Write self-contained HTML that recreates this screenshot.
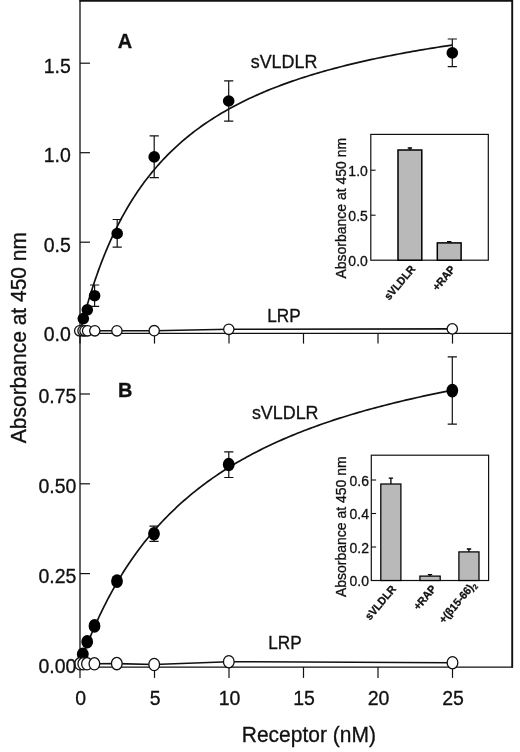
<!DOCTYPE html>
<html><head><meta charset="utf-8"><title>Figure</title>
<style>html,body{margin:0;padding:0;background:#fff}svg{display:block}text{font-family:"Liberation Sans",sans-serif}</style></head>
<body><svg width="520" height="752" viewBox="0 0 520 752">
<rect width="520" height="752" fill="#fff"/>
<g stroke="#111" fill="none" stroke-linecap="butt">
<path d="M512.2 667.1H80.0V0.9" stroke-width="1.3" stroke-linecap="square"/>
<path d="M79.4 0.8H512.2" stroke-width="1.8"/>
<path d="M512.2 0V667.8000000000001" stroke-width="1.9"/>
<path d="M80.0 333.3H512.2" stroke-width="1.2"/>
<path d="M80.0 242.2h10" stroke-width="1.2"/>
<path d="M80.0 152.7h10" stroke-width="1.2"/>
<path d="M80.0 63.2h10" stroke-width="1.2"/>
<path d="M80.0 573.6h10" stroke-width="1.2"/>
<path d="M80.0 483.8h10" stroke-width="1.2"/>
<path d="M80.0 394.0h10" stroke-width="1.2"/>
<path d="M80.0 333.3v10.3" stroke-width="1.2"/>
<path d="M80.0 667.1v10.8" stroke-width="1.2"/>
<path d="M154.5 333.3v10.3" stroke-width="1.2"/>
<path d="M154.5 667.1v10.8" stroke-width="1.2"/>
<path d="M229.0 333.3v10.3" stroke-width="1.2"/>
<path d="M229.0 667.1v10.8" stroke-width="1.2"/>
<path d="M303.5 333.3v10.3" stroke-width="1.2"/>
<path d="M303.5 667.1v10.8" stroke-width="1.2"/>
<path d="M378.0 333.3v10.3" stroke-width="1.2"/>
<path d="M378.0 667.1v10.8" stroke-width="1.2"/>
<path d="M452.5 333.3v10.3" stroke-width="1.2"/>
<path d="M452.5 667.1v10.8" stroke-width="1.2"/>
</g>
<path d="M80.00 332.00L80.01 331.96L80.04 331.85L80.08 331.66L80.15 331.40L80.23 331.06L80.34 330.65L80.46 330.17L80.60 329.61L80.75 328.98L80.93 328.28L81.13 327.51L81.34 326.67L81.57 325.76L81.83 324.79L82.10 323.74L82.38 322.64L82.69 321.47L83.02 320.23L83.36 318.94L83.72 317.58L84.11 316.17L84.51 314.70L84.93 313.18L85.36 311.61L85.82 309.98L86.30 308.30L86.79 306.58L87.30 304.80L87.83 302.99L88.38 301.13L88.95 299.23L89.54 297.29L90.14 295.32L90.77 293.31L91.41 291.26L92.07 289.19L92.75 287.08L93.45 284.95L94.16 282.79L94.90 280.60L95.65 278.39L96.43 276.16L97.22 273.91L98.03 271.64L98.86 269.36L99.71 267.06L100.57 264.75L101.46 262.42L102.36 260.09L103.28 257.74L104.22 255.39L105.18 253.03L106.16 250.67L107.16 248.30L108.17 245.93L109.20 243.56L110.26 241.19L111.33 238.82L112.42 236.45L113.53 234.09L114.65 231.73L115.80 229.37L116.96 227.02L118.14 224.68L119.35 222.34L120.57 220.02L121.80 217.70L123.06 215.39L124.34 213.10L125.63 210.81L126.94 208.54L128.28 206.28L129.63 204.03L131.00 201.79L132.38 199.57L133.79 197.37L135.21 195.18L136.66 193.00L138.12 190.84L139.60 188.70L141.10 186.57L142.62 184.46L144.15 182.37L145.71 180.29L147.28 178.23L148.88 176.19L150.49 174.17L152.12 172.16L153.76 170.18L155.43 168.21L157.12 166.26L158.82 164.33L160.54 162.42L162.29 160.52L164.05 158.65L165.82 156.79L167.62 154.95L169.44 153.13L171.27 151.33L173.12 149.55L175.00 147.79L176.89 146.04L178.80 144.32L180.72 142.61L182.67 140.92L184.64 139.25L186.62 137.60L188.62 135.97L190.64 134.35L192.68 132.76L194.74 131.18L196.82 129.62L198.91 128.07L201.03 126.55L203.16 125.04L205.31 123.55L207.48 122.08L209.67 120.62L211.87 119.18L214.10 117.76L216.34 116.35L218.61 114.96L220.89 113.59L223.19 112.23L225.51 110.89L227.85 109.57L230.20 108.26L232.58 106.97L234.97 105.69L237.38 104.43L239.81 103.18L242.26 101.95L244.73 100.73L247.22 99.53L249.72 98.34L252.24 97.16L254.79 96.00L257.35 94.86L259.93 93.72L262.52 92.61L265.14 91.50L267.78 90.41L270.43 89.33L273.10 88.26L275.80 87.21L278.51 86.17L281.23 85.14L283.98 84.13L286.75 83.13L289.53 82.14L292.33 81.16L295.16 80.19L298.00 79.23L300.86 78.29L303.73 77.36L306.63 76.44L309.54 75.53L312.48 74.63L315.43 73.74L318.40 72.86L321.39 71.99L324.40 71.13L327.42 70.29L330.47 69.45L333.53 68.62L336.62 67.81L339.72 67.00L342.84 66.20L345.97 65.41L349.13 64.63L352.31 63.86L355.50 63.10L358.71 62.35L361.95 61.61L365.20 60.87L368.46 60.15L371.75 59.43L375.06 58.72L378.38 58.02L381.73 57.33L385.09 56.64L388.47 55.96L391.87 55.30L395.28 54.63L398.72 53.98L402.18 53.33L405.65 52.70L409.14 52.06L412.65 51.44L416.18 50.82L419.73 50.21L423.30 49.61L426.88 49.01L430.49 48.42L434.11 47.84L437.75 47.26L441.41 46.69L445.09 46.13L448.78 45.57L452.50 45.02" stroke="#111" stroke-width="1.7" fill="none"/>
<path d="M80.00 663.40L80.01 663.37L80.04 663.30L80.08 663.17L80.15 662.98L80.23 662.75L80.34 662.47L80.46 662.13L80.60 661.74L80.75 661.30L80.93 660.82L81.13 660.28L81.34 659.69L81.57 659.05L81.83 658.37L82.10 657.64L82.38 656.85L82.69 656.03L83.02 655.15L83.36 654.24L83.72 653.27L84.11 652.27L84.51 651.22L84.93 650.13L85.36 648.99L85.82 647.82L86.30 646.60L86.79 645.35L87.30 644.06L87.83 642.73L88.38 641.37L88.95 639.97L89.54 638.54L90.14 637.07L90.77 635.57L91.41 634.04L92.07 632.48L92.75 630.90L93.45 629.28L94.16 627.64L94.90 625.97L95.65 624.27L96.43 622.55L97.22 620.81L98.03 619.05L98.86 617.26L99.71 615.46L100.57 613.63L101.46 611.79L102.36 609.93L103.28 608.06L104.22 606.17L105.18 604.26L106.16 602.34L107.16 600.41L108.17 598.47L109.20 596.52L110.26 594.56L111.33 592.59L112.42 590.61L113.53 588.62L114.65 586.63L115.80 584.63L116.96 582.63L118.14 580.62L119.35 578.61L120.57 576.60L121.80 574.58L123.06 572.57L124.34 570.55L125.63 568.54L126.94 566.52L128.28 564.51L129.63 562.49L131.00 560.48L132.38 558.48L133.79 556.47L135.21 554.47L136.66 552.48L138.12 550.49L139.60 548.51L141.10 546.53L142.62 544.56L144.15 542.59L145.71 540.63L147.28 538.68L148.88 536.74L150.49 534.81L152.12 532.88L153.76 530.96L155.43 529.06L157.12 527.16L158.82 525.27L160.54 523.39L162.29 521.53L164.05 519.67L165.82 517.82L167.62 515.99L169.44 514.16L171.27 512.35L173.12 510.55L175.00 508.76L176.89 506.98L178.80 505.22L180.72 503.47L182.67 501.72L184.64 499.99L186.62 498.28L188.62 496.57L190.64 494.88L192.68 493.20L194.74 491.54L196.82 489.89L198.91 488.24L201.03 486.62L203.16 485.00L205.31 483.40L207.48 481.81L209.67 480.24L211.87 478.68L214.10 477.13L216.34 475.59L218.61 474.07L220.89 472.56L223.19 471.06L225.51 469.57L227.85 468.10L230.20 466.64L232.58 465.20L234.97 463.76L237.38 462.34L239.81 460.94L242.26 459.54L244.73 458.16L247.22 456.79L249.72 455.43L252.24 454.09L254.79 452.76L257.35 451.44L259.93 450.13L262.52 448.83L265.14 447.55L267.78 446.28L270.43 445.02L273.10 443.77L275.80 442.54L278.51 441.31L281.23 440.10L283.98 438.90L286.75 437.71L289.53 436.53L292.33 435.37L295.16 434.21L298.00 433.07L300.86 431.94L303.73 430.81L306.63 429.70L309.54 428.60L312.48 427.51L315.43 426.44L318.40 425.37L321.39 424.31L324.40 423.26L327.42 422.23L330.47 421.20L333.53 420.18L336.62 419.17L339.72 418.18L342.84 417.19L345.97 416.21L349.13 415.24L352.31 414.29L355.50 413.34L358.71 412.40L361.95 411.47L365.20 410.55L368.46 409.63L371.75 408.73L375.06 407.84L378.38 406.95L381.73 406.07L385.09 405.21L388.47 404.35L391.87 403.49L395.28 402.65L398.72 401.82L402.18 400.99L405.65 400.17L409.14 399.36L412.65 398.56L416.18 397.77L419.73 396.98L423.30 396.20L426.88 395.43L430.49 394.66L434.11 393.91L437.75 393.16L441.41 392.42L445.09 391.68L448.78 390.96L452.50 390.24" stroke="#111" stroke-width="1.7" fill="none"/>
<path d="M94.6 285.0V306.4M90.0 285.0h9.2M90.0 306.4h9.2" stroke="#111" stroke-width="1.2" fill="none"/>
<path d="M117.2 219.5V247.1M112.6 219.5h9.2M112.6 247.1h9.2" stroke="#111" stroke-width="1.2" fill="none"/>
<path d="M154.2 135.8V177.7M149.6 135.8h9.2M149.6 177.7h9.2" stroke="#111" stroke-width="1.2" fill="none"/>
<path d="M228.7 80.8V121.2M224.1 80.8h9.2M224.1 121.2h9.2" stroke="#111" stroke-width="1.2" fill="none"/>
<path d="M452.3 39.0V66.7M447.7 39.0h9.2M447.7 66.7h9.2" stroke="#111" stroke-width="1.2" fill="none"/>
<ellipse cx="83.3" cy="318.6" rx="5.8" ry="5.8" fill="#000"/>
<ellipse cx="87.3" cy="309.8" rx="5.8" ry="5.8" fill="#000"/>
<ellipse cx="94.6" cy="295.7" rx="5.8" ry="5.8" fill="#000"/>
<ellipse cx="117.2" cy="233.5" rx="5.8" ry="5.8" fill="#000"/>
<ellipse cx="154.2" cy="156.9" rx="5.8" ry="5.8" fill="#000"/>
<ellipse cx="228.7" cy="101" rx="5.8" ry="5.8" fill="#000"/>
<ellipse cx="452.3" cy="52.9" rx="5.8" ry="5.8" fill="#000"/>
<path d="M154.0 526.2V541.4M149.4 526.2h9.2M149.4 541.4h9.2" stroke="#111" stroke-width="1.2" fill="none"/>
<path d="M228.8 451.8V477.5M224.2 451.8h9.2M224.2 477.5h9.2" stroke="#111" stroke-width="1.2" fill="none"/>
<path d="M452.3 356.9V424.2M447.7 356.9h9.2M447.7 424.2h9.2" stroke="#111" stroke-width="1.2" fill="none"/>
<ellipse cx="82.8" cy="654.3" rx="5.9" ry="6.8" fill="#000"/>
<ellipse cx="87.2" cy="641.7" rx="5.9" ry="6.8" fill="#000"/>
<ellipse cx="94.5" cy="625.9" rx="5.9" ry="6.8" fill="#000"/>
<ellipse cx="117.0" cy="581.1" rx="5.9" ry="6.8" fill="#000"/>
<ellipse cx="154.0" cy="533.8" rx="5.9" ry="6.8" fill="#000"/>
<ellipse cx="228.75" cy="464.5" rx="5.9" ry="6.8" fill="#000"/>
<ellipse cx="452.3" cy="390.6" rx="5.9" ry="6.8" fill="#000"/>
<path d="M79.7 330.8L83.0 330.8L85.0 330.8L87.6 330.8L94.8 330.8L116.9 330.8L154.2 330.7L228.8 329.3L452.3 328.9" stroke="#111" stroke-width="1.6" fill="none"/>
<ellipse cx="79.7" cy="330.8" rx="5.15" ry="5.2" fill="#fff" stroke="#111" stroke-width="1.3"/>
<ellipse cx="83.0" cy="330.8" rx="5.15" ry="5.2" fill="#fff" stroke="#111" stroke-width="1.3"/>
<ellipse cx="85.0" cy="330.8" rx="5.15" ry="5.2" fill="#fff" stroke="#111" stroke-width="1.3"/>
<ellipse cx="87.6" cy="330.8" rx="5.15" ry="5.2" fill="#fff" stroke="#111" stroke-width="1.3"/>
<ellipse cx="94.8" cy="330.8" rx="5.15" ry="5.2" fill="#fff" stroke="#111" stroke-width="1.3"/>
<ellipse cx="116.9" cy="330.8" rx="5.15" ry="5.2" fill="#fff" stroke="#111" stroke-width="1.3"/>
<ellipse cx="154.2" cy="330.7" rx="5.15" ry="5.2" fill="#fff" stroke="#111" stroke-width="1.3"/>
<ellipse cx="228.8" cy="329.3" rx="5.15" ry="5.2" fill="#fff" stroke="#111" stroke-width="1.3"/>
<ellipse cx="452.3" cy="328.9" rx="5.15" ry="5.2" fill="#fff" stroke="#111" stroke-width="1.3"/>
<path d="M80 663.8L83.3 663.8L87.0 663.8L94.4 663.8L116.8 663.6L154.2 664.5L228.8 661.7L452.5 662.7" stroke="#111" stroke-width="1.6" fill="none"/>
<ellipse cx="80" cy="663.8" rx="5.35" ry="6.15" fill="#fff" stroke="#111" stroke-width="1.3"/>
<ellipse cx="83.3" cy="663.8" rx="5.35" ry="6.15" fill="#fff" stroke="#111" stroke-width="1.3"/>
<ellipse cx="87.0" cy="663.8" rx="5.35" ry="6.15" fill="#fff" stroke="#111" stroke-width="1.3"/>
<ellipse cx="94.4" cy="663.8" rx="5.35" ry="6.15" fill="#fff" stroke="#111" stroke-width="1.3"/>
<ellipse cx="116.8" cy="663.6" rx="5.35" ry="6.15" fill="#fff" stroke="#111" stroke-width="1.3"/>
<ellipse cx="154.2" cy="664.5" rx="5.35" ry="6.15" fill="#fff" stroke="#111" stroke-width="1.3"/>
<ellipse cx="228.8" cy="661.7" rx="5.35" ry="6.15" fill="#fff" stroke="#111" stroke-width="1.3"/>
<ellipse cx="452.5" cy="662.7" rx="5.35" ry="6.15" fill="#fff" stroke="#111" stroke-width="1.3"/>
<text transform="translate(70.8 341.0) scale(1 1.045)" font-size="19.5" text-anchor="end" font-weight="normal"  fill="#111" stroke="#111" stroke-width="0.3" >0.0</text>
<text transform="translate(70.8 251.5) scale(1 1.045)" font-size="19.5" text-anchor="end" font-weight="normal"  fill="#111" stroke="#111" stroke-width="0.3" >0.5</text>
<text transform="translate(70.8 162.0) scale(1 1.045)" font-size="19.5" text-anchor="end" font-weight="normal"  fill="#111" stroke="#111" stroke-width="0.3" >1.0</text>
<text transform="translate(70.8 72.5) scale(1 1.045)" font-size="19.5" text-anchor="end" font-weight="normal"  fill="#111" stroke="#111" stroke-width="0.3" >1.5</text>
<text transform="translate(76.4 672.5) scale(1 1.045)" font-size="19.5" text-anchor="end" font-weight="normal"  fill="#111" stroke="#111" stroke-width="0.3" >0.00</text>
<text transform="translate(76.4 582.7) scale(1 1.045)" font-size="19.5" text-anchor="end" font-weight="normal"  fill="#111" stroke="#111" stroke-width="0.3" >0.25</text>
<text transform="translate(76.4 492.9) scale(1 1.045)" font-size="19.5" text-anchor="end" font-weight="normal"  fill="#111" stroke="#111" stroke-width="0.3" >0.50</text>
<text transform="translate(76.4 403.1) scale(1 1.045)" font-size="19.5" text-anchor="end" font-weight="normal"  fill="#111" stroke="#111" stroke-width="0.3" >0.75</text>
<text transform="translate(80.6 704.8) scale(1 1.045)" font-size="19.5" text-anchor="middle" font-weight="normal"  fill="#111" stroke="#111" stroke-width="0.3" >0</text>
<text transform="translate(155.1 704.8) scale(1 1.045)" font-size="19.5" text-anchor="middle" font-weight="normal"  fill="#111" stroke="#111" stroke-width="0.3" >5</text>
<text transform="translate(229.6 704.8) scale(1 1.045)" font-size="19.5" text-anchor="middle" font-weight="normal"  fill="#111" stroke="#111" stroke-width="0.3" >10</text>
<text transform="translate(304.1 704.8) scale(1 1.045)" font-size="19.5" text-anchor="middle" font-weight="normal"  fill="#111" stroke="#111" stroke-width="0.3" >15</text>
<text transform="translate(378.6 704.8) scale(1 1.045)" font-size="19.5" text-anchor="middle" font-weight="normal"  fill="#111" stroke="#111" stroke-width="0.3" >20</text>
<text transform="translate(453.1 704.8) scale(1 1.045)" font-size="19.5" text-anchor="middle" font-weight="normal"  fill="#111" stroke="#111" stroke-width="0.3" >25</text>
<text transform="translate(308.8 741.6) scale(1 1.045)" font-size="21" text-anchor="middle" font-weight="normal"  fill="#111" stroke="#111" stroke-width="0.3" >Receptor (nM)</text>
<text transform="translate(25.6 337.6) rotate(-90) scale(1 1.045)" font-size="21" text-anchor="middle" font-weight="normal"  fill="#111" stroke="#111" stroke-width="0.3" >Absorbance at 450 nm</text>
<text transform="translate(125 48) scale(1 1.045)" font-size="20" text-anchor="middle" font-weight="bold"  fill="#111" stroke="#111" stroke-width="0.3" >A</text>
<text transform="translate(125.2 397.2) scale(1 1.045)" font-size="20" text-anchor="middle" font-weight="bold"  fill="#111" stroke="#111" stroke-width="0.3" >B</text>
<text transform="translate(250.7 68) scale(1 1.0)" font-size="17.9" text-anchor="start" font-weight="normal"  fill="#111" stroke="#111" stroke-width="0.3" >sVLDLR</text>
<text transform="translate(251.9 419.2) scale(1 1.0)" font-size="17.9" text-anchor="start" font-weight="normal"  fill="#111" stroke="#111" stroke-width="0.3" >sVLDLR</text>
<text transform="translate(267.2 321.5) scale(1 1.045)" font-size="17.2" text-anchor="start" font-weight="normal"  fill="#111" stroke="#111" stroke-width="0.3" >LRP</text>
<text transform="translate(268.3 649.2) scale(1 1.045)" font-size="17.2" text-anchor="start" font-weight="normal"  fill="#111" stroke="#111" stroke-width="0.3" >LRP</text>
<rect x="370.8" y="134.4" width="117.5" height="125.79999999999998" fill="#fff" stroke="#111" stroke-width="1.2"/>
<text transform="translate(367.8 265.8) scale(1 1.045)" font-size="14" text-anchor="end" font-weight="normal"  fill="#111" stroke="#111" stroke-width="0.3" >0.0</text>
<path d="M370.8 215.2h4.8" stroke="#111" stroke-width="1.1"/>
<text transform="translate(367.8 220.79999999999998) scale(1 1.045)" font-size="14" text-anchor="end" font-weight="normal"  fill="#111" stroke="#111" stroke-width="0.3" >0.5</text>
<path d="M370.8 170.2h4.8" stroke="#111" stroke-width="1.1"/>
<text transform="translate(367.8 175.79999999999998) scale(1 1.045)" font-size="14" text-anchor="end" font-weight="normal"  fill="#111" stroke="#111" stroke-width="0.3" >1.0</text>
<path d="M409.9 150.0V148.0M407.7 148.0h4.4" stroke="#000" stroke-width="1.3" fill="none"/>
<rect x="398.0" y="150.0" width="23.80000000000001" height="110.19999999999999" fill="#b9b9b9" stroke="#000" stroke-width="1.5"/>
<path d="M449.2 242.9V241.6M447.0 241.6h4.4" stroke="#000" stroke-width="1.3" fill="none"/>
<rect x="437.3" y="242.9" width="23.80000000000001" height="17.299999999999983" fill="#b9b9b9" stroke="#000" stroke-width="1.5"/>
<text transform="translate(345.7 208.25) rotate(-90) scale(1 1.045)" font-size="14" text-anchor="middle" font-weight="normal"  fill="#111" stroke="#111" stroke-width="0.3" >Absorbance at 450 nm</text>
<text transform="translate(415.8 269.3) rotate(-50) scale(1 1.045)" font-size="10.6" text-anchor="end" font-weight="bold"  fill="#111" stroke="#111" stroke-width="0.3" >sVLDLR</text>
<text transform="translate(455.8 269.6) rotate(-50) scale(1 1.045)" font-size="10.6" text-anchor="end" font-weight="bold"  fill="#111" stroke="#111" stroke-width="0.3" >+RAP</text>
<rect x="371.3" y="455.2" width="117.30000000000001" height="125.30000000000001" fill="#fff" stroke="#111" stroke-width="1.2"/>
<text transform="translate(369.0 586.1) scale(1 1.045)" font-size="14" text-anchor="end" font-weight="normal"  fill="#111" stroke="#111" stroke-width="0.3" >0.0</text>
<path d="M371.3 547.0h4.8" stroke="#111" stroke-width="1.1"/>
<text transform="translate(369.0 552.6) scale(1 1.045)" font-size="14" text-anchor="end" font-weight="normal"  fill="#111" stroke="#111" stroke-width="0.3" >0.2</text>
<path d="M371.3 513.5h4.8" stroke="#111" stroke-width="1.1"/>
<text transform="translate(369.0 519.1) scale(1 1.045)" font-size="14" text-anchor="end" font-weight="normal"  fill="#111" stroke="#111" stroke-width="0.3" >0.4</text>
<path d="M371.3 480.0h4.8" stroke="#111" stroke-width="1.1"/>
<text transform="translate(369.0 485.6) scale(1 1.045)" font-size="14" text-anchor="end" font-weight="normal"  fill="#111" stroke="#111" stroke-width="0.3" >0.6</text>
<path d="M390.9 484.0V478.1M388.7 478.1h4.4" stroke="#000" stroke-width="1.3" fill="none"/>
<rect x="380.8" y="484.0" width="20.099999999999966" height="96.5" fill="#b9b9b9" stroke="#000" stroke-width="1.25"/>
<path d="M430.0 576.1V574.6M427.8 574.6h4.4" stroke="#000" stroke-width="1.3" fill="none"/>
<rect x="419.9" y="576.1" width="20.30000000000001" height="4.399999999999977" fill="#b9b9b9" stroke="#000" stroke-width="1.25"/>
<path d="M468.9 551.9V549.0M466.8 549.0h4.4" stroke="#000" stroke-width="1.3" fill="none"/>
<rect x="458.9" y="551.9" width="20.100000000000023" height="28.600000000000023" fill="#b9b9b9" stroke="#000" stroke-width="1.25"/>
<text transform="translate(345.7 526.75) rotate(-90) scale(1 1.045)" font-size="14" text-anchor="middle" font-weight="normal"  fill="#111" stroke="#111" stroke-width="0.3" >Absorbance at 450 nm</text>
<text transform="translate(396.6 589.3) rotate(-50) scale(1 1.045)" font-size="10.6" text-anchor="end" font-weight="bold"  fill="#111" stroke="#111" stroke-width="0.3" >sVLDLR</text>
<text transform="translate(436.8 589.0) rotate(-50) scale(1 1.045)" font-size="10.6" text-anchor="end" font-weight="bold"  fill="#111" stroke="#111" stroke-width="0.3" >+RAP</text>
<text transform="translate(476.6 585.2) rotate(-50) scale(1 1.045)" font-size="10.6" text-anchor="end" font-weight="bold"  fill="#111" stroke="#111" stroke-width="0.3" >+(β15-66)<tspan font-size="7" dy="2.5">2</tspan></text>
</svg></body></html>
